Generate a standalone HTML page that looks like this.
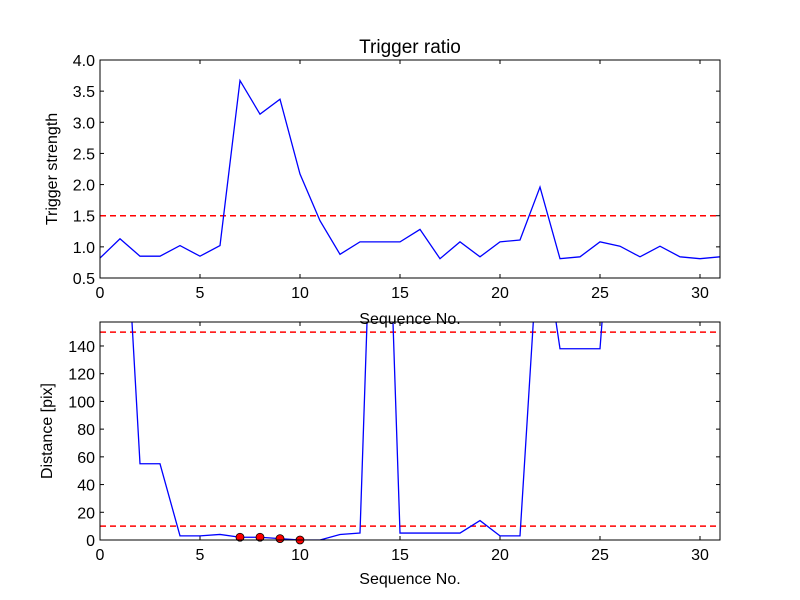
<!DOCTYPE html>
<html><head><meta charset="utf-8"><style>body{margin:0;background:#fff}svg{display:block}text{font-family:"Liberation Sans",sans-serif;fill:#000}</style></head>
<body>
<svg id="c" width="800" height="600"></svg>
<script>
const xs = Array.from({length:32},(_,i)=>i);
const strength = [0.82,1.13,0.85,0.85,1.02,0.85,1.02,3.67,3.13,3.37,2.17,1.42,0.88,1.08,1.08,1.08,1.28,0.81,1.08,0.84,1.08,1.11,1.96,0.81,0.84,1.08,1.01,0.84,1.01,0.84,0.81,0.84];
const distance = [300,310,55,55,3,3,4,2,2,1,0,0,4,5,439,5,5,5,5,14,3,3,235,138,138,138,328,330,330,330,330,330];
const markX = [7,8,9,10];
const markY = [2,2,1,0];
const strengthThresh = [1.5];
const distThresh = [150,10];
const topYTicks = [0.5,1.0,1.5,2.0,2.5,3.0,3.5,4.0];
const botYTicks = [0,20,40,60,80,100,120,140];
const xTicks = [0,5,10,15,20,25,30];

const NS="http://www.w3.org/2000/svg";
const svg=document.getElementById('c');
function el(t,a,p){const e=document.createElementNS(NS,t);for(const k in a)e.setAttribute(k,a[k]);(p||svg).appendChild(e);return e;}
const X0=100,X1=720;
const sx=v=>X0+(v-0)/31*(X1-X0);
function panel(top,bot,ymin,ymax,yt,fmt,name){
  const sy=v=>bot-(v-ymin)/(ymax-ymin)*(bot-top);
  const g=el('g',{});
  
  
  const cid='clip'+name;
  const cp=el('clipPath',{id:cid},g);el('rect',{x:X0,y:top,width:X1-X0,height:bot-top},cp);
  xTicks.forEach(t=>{const x=sx(t);
    el('line',{x1:x,x2:x,y1:bot,y2:bot-4,stroke:'#000'},g);el('line',{x1:x,x2:x,y1:top,y2:top+4,stroke:'#000'},g);
    const tx=el('text',{x:x,y:bot+20,'font-size':16,'text-anchor':'middle'},g);tx.textContent=t;
    
    });
  yt.forEach(t=>{const y=sy(t);
    el('line',{x1:X0,x2:X0+4,y1:y,y2:y,stroke:'#000'},g);el('line',{x1:X1,x2:X1-4,y1:y,y2:y,stroke:'#000'},g);
    const tx=el('text',{x:X0-5,y:y+6,'font-size':16,'text-anchor':'end'},g);tx.textContent=fmt(t);
    
    });
  return {g,sy,cid};
}
// top
const P1=panel(60,278,0.5,4.0,topYTicks,v=>v.toFixed(1),'trigger-strength-panel');
strengthThresh.forEach(t=>{const l=el('line',{x1:X0,x2:X1,y1:P1.sy(t),y2:P1.sy(t),stroke:'red','stroke-width':1.5,'stroke-dasharray':'6,4'},P1.g);
 });
const l1=el('polyline',{points:xs.map((x,i)=>sx(x)+','+P1.sy(strength[i])).join(' '),fill:'none',stroke:'blue','stroke-width':1.3,'clip-path':'url(#'+P1.cid+')'},P1.g);

el('rect',{x:X0,y:60,width:X1-X0,height:218,fill:'none',stroke:'#000'},P1.g);
// bottom
const P2=panel(322,540,0,157.3,botYTicks,v=>v,'distance-panel');
distThresh.forEach(t=>{const l=el('line',{x1:X0,x2:X1,y1:P2.sy(t),y2:P2.sy(t),stroke:'red','stroke-width':1.5,'stroke-dasharray':'6,4'},P2.g);
 });
const l2=el('polyline',{points:xs.map((x,i)=>sx(x)+','+P2.sy(distance[i])).join(' '),fill:'none',stroke:'blue','stroke-width':1.3,'clip-path':'url(#'+P2.cid+')'},P2.g);

markX.forEach((x,i)=>{const c=el('circle',{cx:sx(x),cy:P2.sy(markY[i]),r:4,fill:'red',stroke:'#000','stroke-width':0.8},P2.g);
 });
el('rect',{x:X0,y:322,width:X1-X0,height:218,fill:'none',stroke:'#000'},P2.g);
// labels
function txt(s,a,name){const t=el('text',a);t.textContent=s;}
txt('Trigger ratio',{x:410,y:53,'font-size':19,'text-anchor':'middle'},'chart-title');
txt('Sequence No.',{x:410,y:324,'font-size':16,'text-anchor':'middle'},'top-x-axis-title');
txt('Sequence No.',{x:410,y:584,'font-size':16,'text-anchor':'middle'},'bottom-x-axis-title');
txt('Trigger strength',{x:57,y:169,'font-size':16,'text-anchor':'middle',transform:'rotate(-90 57 169)'},'top-y-axis-title');
txt('Distance [pix]',{x:52,y:431,'font-size':16,'text-anchor':'middle',transform:'rotate(-90 52 431)'},'bottom-y-axis-title');
</script>
</body></html>
